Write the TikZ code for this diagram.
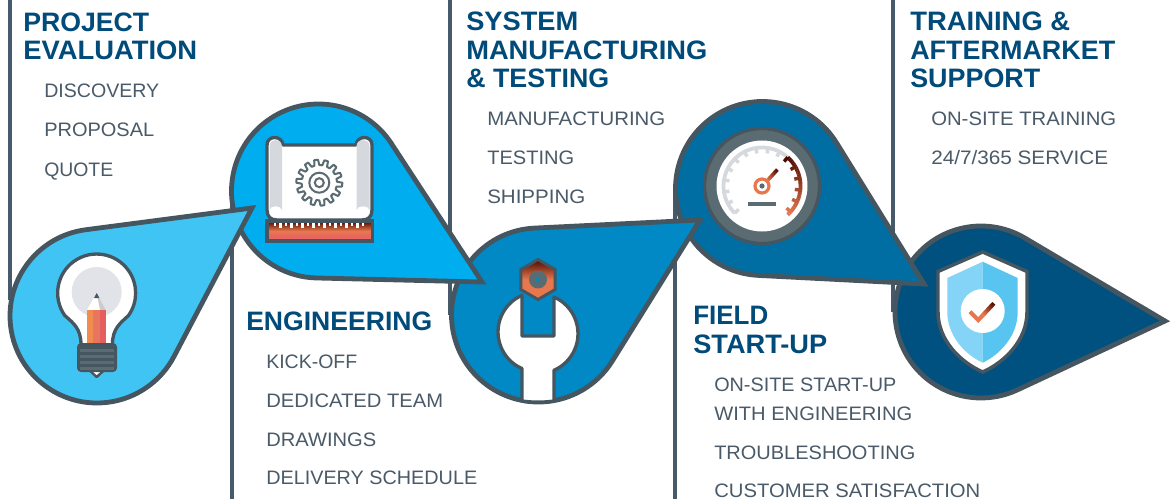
\documentclass[tikz,border=0pt]{standalone}
\usepackage{graphicx}
\usepackage{fontspec}
\setmainfont{Liberation Sans}
\definecolor{edge}{HTML}{465660}
\definecolor{slate}{HTML}{5A6B72}
\definecolor{rule}{HTML}{465A6C}
\definecolor{head}{HTML}{004B7A}
\definecolor{sub}{HTML}{4A5A68}
\definecolor{dA}{HTML}{40C4F4}
\definecolor{dB}{HTML}{00AEEF}
\definecolor{dC}{HTML}{0089C4}
\definecolor{dD}{HTML}{006DA3}
\definecolor{dE}{HTML}{005180}
\definecolor{gOr}{HTML}{E8774D}
\definecolor{gMa}{HTML}{4A0A00}
\definecolor{gRed}{HTML}{E8665F}
\definecolor{roll}{HTML}{D5D8DD}
\definecolor{bulbgrey}{HTML}{E2E3E8}
\definecolor{penA}{HTML}{F08C4E}
\definecolor{penB}{HTML}{E8755E}
\definecolor{penC}{HTML}{E65F5F}
\definecolor{shL}{HTML}{84D4F7}
\definecolor{shR}{HTML}{57C5EF}
\tikzset{
  x=.75pt,y=-.75pt,
  vrule/.style={draw=rule,line width=2.4pt},
  droppath/.style={draw=edge,line width=3.6pt,line join=miter,miter limit=20},
  icon/.style={draw=edge,line width=2.5pt,line join=round},
  heading/.style={anchor=base west,inner sep=0pt,text=head,align=left,font=\fontsize{20}{21.4}\selectfont\bfseries},
  item/.style={anchor=base west,inner sep=0pt,text=sub,align=left,font=\fontsize{14.6}{21.7}\selectfont},
}
\newcommand\fitw[2]{\resizebox{\dimexpr #1pt*3/4\relax}{\height}{#2}}
\newcommand\dropshape[6]{%
  \pgfmathsetmacro\dang{atan2(#5-#2,#4-#1)}%
  \pgfmathsetmacro\ddist{veclen(#4-#1,#5-#2)}%
  \pgfmathsetmacro\dhalf{acos(#3/\ddist)}%
  \pgfmathsetmacro\dsa{\dang-\dhalf}%
  \pgfmathsetmacro\dea{\dang+\dhalf-360}%
  \path[droppath,fill=#6] (#4,#5) -- ({#1+#3*cos(\dsa)},{#2+#3*sin(\dsa)}) arc[start angle=\dsa,end angle=\dea,radius=#3] -- cycle;%
}
\begin{document}
\begin{tikzpicture}
\useasboundingbox (0,0) rectangle (1170,499);
\fill[white] (0,0) rectangle (1170,499);
% vertical rules
\draw[vrule] (10,0) -- (10,300);
\draw[vrule] (232,190) -- (232,499);
\draw[vrule] (450,0) -- (450,315);
\draw[vrule] (675,190) -- (675,499);
\draw[vrule] (893,0) -- (893,312);
% teardrops, last first
\dropshape{981}{312}{86}{1165}{321}{dE}
\dropshape{762.5}{188.5}{87}{924}{284}{dD}
\dropshape{538.5}{315}{87}{700}{220}{dC}
\dropshape{318.5}{191}{87}{482}{282}{dB}
\dropshape{97}{316}{87}{252}{208}{dA}
% bulb
\path[icon,fill=white] (81,345) .. controls (81,328) and (73,323) .. (64.7,315.4)
  arc[start angle=145,end angle=395,radius=39] .. controls (120.7,323) and (112.4,328) .. (112.4,345) -- cycle;
\fill[bulbgrey] (96.7,292) circle[radius=25];
\fill[white] (87,310) -- (96.7,293) -- (106,310) -- cycle;
\fill[black!20] (96.7,293) -- (100,310) -- (106,310) -- cycle;
\fill[edge] (96.7,293) -- (94,298) -- (99.4,298) -- cycle;
\fill[penA] (87,310) rectangle (93.2,347);
\fill[penB] (93.2,310) rectangle (99.6,347);
\fill[penC] (99.6,310) rectangle (106,347);
\path[draw=edge,line width=1.8pt,fill=white,line join=round] (87,368) -- (96.7,377) -- (106.5,368) -- cycle;
\fill[edge,rounded corners=3] (77,343) rectangle (117,372);
\foreach \yy in {349,355,361,367} \fill[slate] (80,\yy) rectangle (114,\yy+2.6);
% blueprint
\path[icon,fill=white] (283,145) -- (356,145) .. controls (357,135) and (372,135) .. (372,145) -- (372,210) .. controls (372,217) and (368,220) .. (362,220) -- (277,220) .. controls (271,220) and (267,217) .. (267,210) -- (267,145) .. controls (267,135) and (282,135) .. (283,145) -- cycle;
\fill[roll] (269.5,146) .. controls (270,138) and (281,138) .. (282,146) -- (282,210) .. controls (281,205) and (270,205) .. (269.5,210) -- cycle;
\fill[roll] (356.5,146) .. controls (357,138) and (369,138) .. (369.5,146) -- (369.5,210) .. controls (369,205) and (357,205) .. (356.5,210) -- cycle;
\begin{scope}[shift={(319.3,182.7)}]
\draw[draw=slate,line width=1.5pt,line join=round]
  plot[samples=113,domain=0:360] (\x:{20.3+2.7*(sin(14*\x+8)>0?1:-1)}) -- cycle;
\draw[slate,line width=1.5pt] (0,0) circle[radius=10];
\draw[slate,line width=1.5pt] (0,0) circle[radius=4.5];
\end{scope}
% ruler
\shade[top color=gMa,bottom color=gOr] (267,221) rectangle (372.5,231);
\shade[top color=gOr,bottom color=gRed] (267,231) rectangle (372.5,236);
\fill[gRed] (267,236) rectangle (372.5,241);
\foreach \xx [count=\ii] in {275,280.5,...,366}{
  \pgfmathsetmacro\tk{mod(\ii,2)==0?5.5:3.5}
  \fill[white] (\xx-1.4,222.5) rectangle (\xx+1.4,222.5+\tk);
}
\draw[edge,line width=2.5pt] (267,221) rectangle (372.5,241);
% nut
\path[draw=edge,line width=2.2pt,top color=gMa,bottom color=gOr,middle color=gOr,line join=miter]
  (538,259.5) -- (555.2,269.5) -- (555.2,289.5) -- (538,299.5) -- (520.8,289.5) -- (520.8,269.5) -- cycle;
\fill[slate] (538,279.5) circle[radius=9];
\fill[dC] (538,279.5) circle[radius=2];
% wrench
\path[icon,fill=white] (522,297) -- (522,336) -- (554,336) -- (554,297)
  arc[start angle=-66.4,end angle=66.4,radius=40] -- (554,401) .. controls (544,402.5) and (532,402.5) .. (522,401) -- (522,368.6)
  arc[start angle=113.6,end angle=246.4,radius=40] -- cycle;
% gauge
\path[draw=edge,line width=2.5pt,fill=slate] (762,186) circle[radius=57.5];
\fill[white] (762,186) circle[radius=45.5];
\draw[roll,line width=2.8pt] (762,186) ++(135:38.5) arc[start angle=135,end angle=312,radius=38.5];
\foreach \aa in {135,153,...,310} \draw[roll,line width=2.6pt] (762,186) ++(\aa:38.5) -- ++(\aa:-5.5);
\foreach \aa in {-48,-45,...,45}{
  \pgfmathsetmacro\pp{(\aa+48)/93*100}
  \draw[color=gOr!\pp!gMa,line width=2.9pt] (762,186) ++(\aa:38.5) arc[start angle=\aa,end angle=\aa+3.2,radius=38.5];
}
\foreach \aa in {-48,-30,-12,6,24,42}{
  \pgfmathsetmacro\pp{(\aa+48)/93*100}
  \draw[color=gOr!\pp!gMa,line width=2.6pt] (762,186) ++(\aa:38.5) -- ++(\aa:-5.5);
}
\foreach \tt in {0,.1,...,.95}{
  \pgfmathsetmacro\pp{100-\tt*100}
  \draw[color=gOr!\pp!gMa,line width=2.7pt] ({767+\tt*10},{181-\tt*11}) -- ({768.4+\tt*10},{179.5-\tt*11});
}
\draw[gOr,line width=2.4pt,fill=white] (762,186) circle[radius=7];
\fill[slate] (762,186) circle[radius=2.6];
\fill[slate] (748,202) rectangle (776,205.6);
% shield
\path[draw=edge,line width=2.6pt,fill=white,line join=miter]
  (982.7,252) -- (1027,271.5) -- (1027,312) .. controls (1027,340) and (1005,362) .. (982.7,372)
  .. controls (960,362) and (938,340) .. (938,312) -- (938,271.5) -- cycle;
\fill[shL] (982.7,261.7) -- (947.3,278) -- (947.3,312) .. controls (947.3,335) and (964,354) .. (982.7,362.7) -- cycle;
\fill[shR] (982.7,261.7) -- (1017.7,278) -- (1017.7,312) .. controls (1017.7,335) and (1001,354) .. (982.7,362.7) -- cycle;
\fill[white] (982.7,311) circle[radius=22];
\draw[gOr,line width=3.1pt] (970,311.7) -- (978.3,320) -- (984,314);
\foreach \tt in {0,.1,...,.95}{
  \pgfmathsetmacro\pp{100-\tt*100}
  \draw[color=gOr!\pp!gMa,line width=3.1pt] ({983+\tt*10.4},{315-\tt*11.2}) -- ({984.5+\tt*10.4},{313.4-\tt*11.2});
}
% text
\node[heading] (h1) at (23,60) {\fitw{126}{PROJECT}\\\fitw{174}{EVALUATION}};
\node[item] (a1) at (44,98) {\fitw{115}{DISCOVERY}};
\node[item] (a2) at (44,137) {\fitw{110}{PROPOSAL}};
\node[item] (a3) at (44,176) {\fitw{69}{QUOTE}};
\node[heading] (h2) at (246,330) {\fitw{186}{ENGINEERING}};
\node[item] (b1) at (266,368) {\fitw{91}{KICK-OFF}};
\node[item] (b2) at (266,407) {\fitw{177}{DEDICATED TEAM}};
\node[item] (b3) at (266,446) {\fitw{110}{DRAWINGS}};
\node[item] (b4) at (266,484) {\fitw{211}{DELIVERY SCHEDULE}};
\node[heading] (h3) at (466,88) {\fitw{112}{SYSTEM}\\\fitw{241}{MANUFACTURING}\\\fitw{143}{\& TESTING}};
\node[item] (c1) at (487,126) {\fitw{178}{MANUFACTURING}};
\node[item] (c2) at (487,165) {\fitw{87}{TESTING}};
\node[item] (c3) at (487,204) {\fitw{98}{SHIPPING}};
\node[heading] (h4) at (693,353) {\fitw{75}{FIELD}\\\fitw{134}{START-UP}};
\node[item] (d1) at (714,420) {\fitw{182}{ON-SITE START-UP}\\\fitw{198}{WITH ENGINEERING}};
\node[item] (d2) at (714,459) {\fitw{201}{TROUBLESHOOTING}};
\node[item] (d3) at (714,497) {\fitw{266}{CUSTOMER SATISFACTION}};
\node[heading] (h5) at (910,88) {\fitw{160}{TRAINING \&}\\\fitw{205}{AFTERMARKET}\\\fitw{130}{SUPPORT}};
\node[item] (e1) at (931,126) {\fitw{185}{ON-SITE TRAINING}};
\node[item] (e2) at (931,165) {\fitw{177}{24/7/365 SERVICE}};
\end{tikzpicture}
\end{document}
